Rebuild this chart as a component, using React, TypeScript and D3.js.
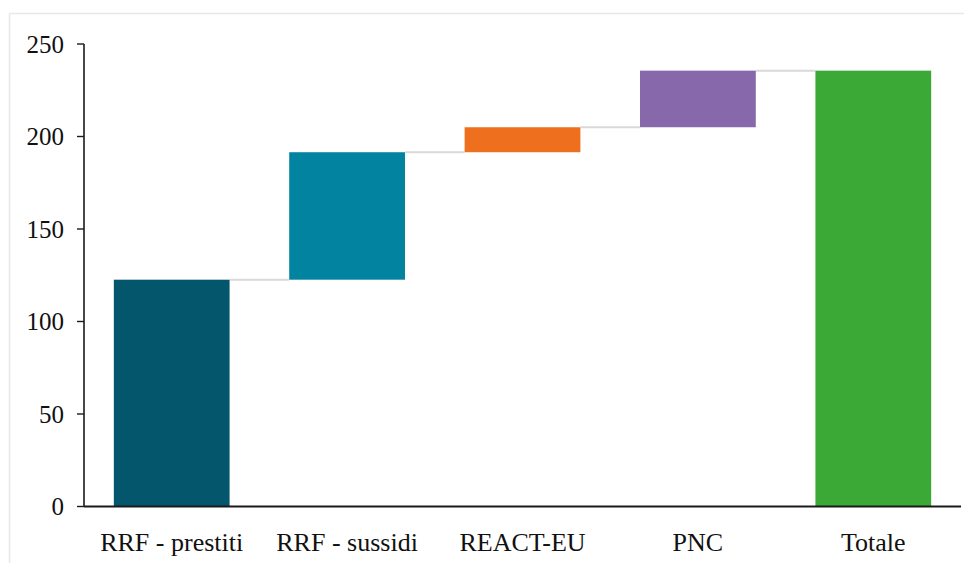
import React from "react";
import * as d3 from "d3";

const categories = ["RRF - prestiti", "RRF - sussidi", "REACT-EU", "PNC", "Totale"];
const deltas = [122.6, 68.9, 13.5, 30.6];
const colors = ["#03566B", "#02839F", "#EE6F1E", "#8768AA", "#3BA935"];
const yTicks = [0, 50, 100, 150, 200, 250];

const W = 964;
const H = 563;
const left = 84;
const right = 961;
const top = 44;
const bottom = 506.5;

export default function App() {
  const x = d3
    .scaleBand<string>()
    .domain(categories)
    .range([left, right])
    .paddingInner(0.34)
    .paddingOuter(0.17);
  const y = d3.scaleLinear().domain([0, 250]).range([bottom, top]);

  const total = d3.sum(deltas);
  const bars: { cat: string; y0: number; y1: number; color: string }[] = [];
  let acc = 0;
  deltas.forEach((d, i) => {
    bars.push({ cat: categories[i], y0: acc, y1: acc + d, color: colors[i] });
    acc += d;
  });
  bars.push({ cat: categories[4], y0: 0, y1: total, color: colors[4] });

  const font = "Liberation Serif, Times New Roman, serif";

  return (
    <svg width={W} height={H} style={{ position: "absolute", left: 0, top: 0 }}>
      <rect x={0} y={0} width={W} height={H} fill="#fff" />
      <line x1={9.5} y1={13.5} x2={W} y2={13.5} stroke="#e8e8e4" strokeWidth={1.5} />
      <line x1={9.5} y1={13.5} x2={9.5} y2={H} stroke="#e8e8e4" strokeWidth={1.5} />

      {bars.slice(0, -1).map((b, i) => {
        const next = bars[i + 1];
        const x1 = (x(b.cat) as number) + x.bandwidth();
        const x2 = x(next.cat) as number;
        return (
          <line key={"c" + i} x1={x1} x2={x2} y1={y(b.y1)} y2={y(b.y1)} stroke="#d9d9d9" strokeWidth={2} />
        );
      })}

      {bars.map((b) => (
        <rect
          key={b.cat}
          x={x(b.cat)}
          width={x.bandwidth()}
          y={y(Math.max(b.y0, b.y1))}
          height={Math.abs(y(b.y0) - y(b.y1))}
          fill={b.color}
        />
      ))}

      <line x1={left} x2={left} y1={top} y2={bottom} stroke="#1a1a1a" strokeWidth={1.6} />
      <line x1={left} x2={right} y1={bottom} y2={bottom} stroke="#1a1a1a" strokeWidth={1.8} />
      {yTicks.map((t) => (
        <g key={t}>
          <line x1={left - 7} x2={left} y1={y(t)} y2={y(t)} stroke="#1a1a1a" strokeWidth={1.4} />
          <text
            x={64}
            y={y(t)}
            dy="0.35em"
            textAnchor="end"
            fontFamily={font}
            fontSize={25}
            fill="#111"
          >
            {t}
          </text>
        </g>
      ))}

      {categories.map((c) => (
        <text
          key={c}
          x={(x(c) as number) + x.bandwidth() / 2}
          y={551}
          textAnchor="middle"
          fontFamily={font}
          fontSize={26}
          fill="#111"
        >
          {c}
        </text>
      ))}
    </svg>
  );
}
